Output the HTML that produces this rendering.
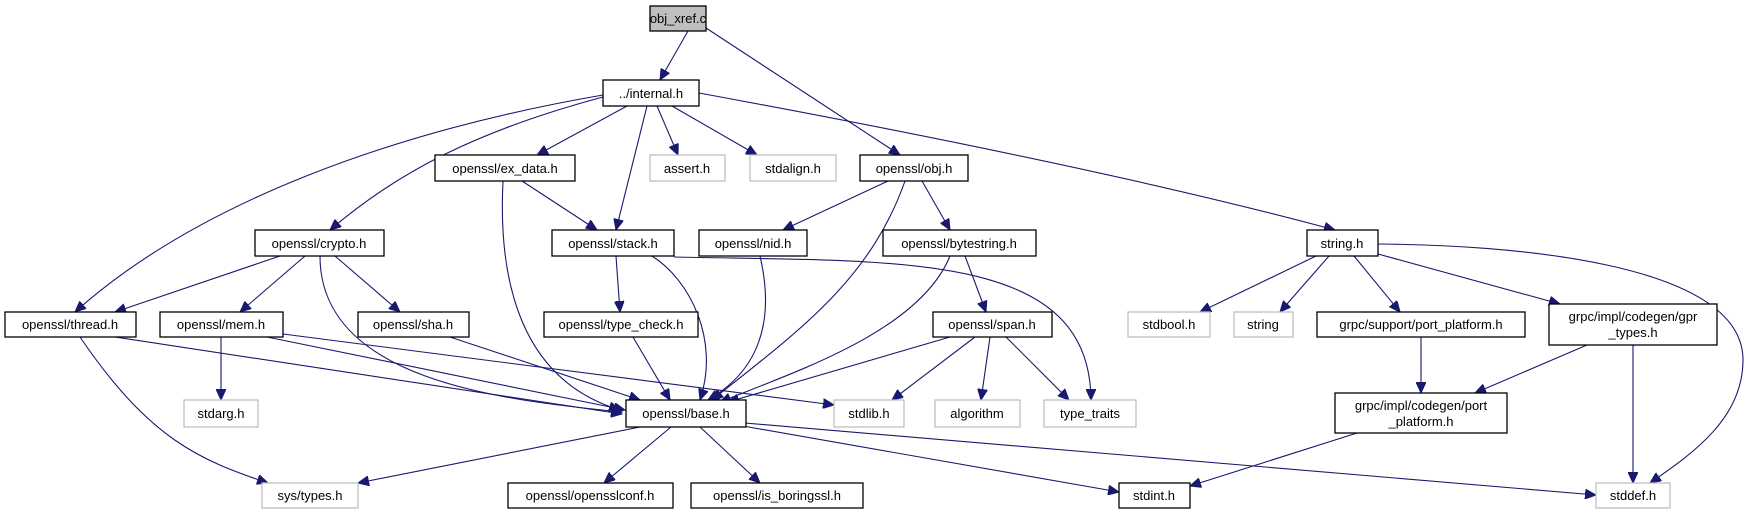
<!DOCTYPE html>
<html><head><meta charset="utf-8"><style>
html,body{margin:0;padding:0;background:#fff;}
svg{display:block}
text{font-family:"Liberation Sans",sans-serif;font-size:13px;text-anchor:middle;fill:#000}
.b{fill:#fff;stroke:#000;stroke-width:1.3}
.g{fill:#fff;stroke:#bfbfbf;stroke-width:1.3}
.e{fill:none;stroke:#191970;stroke-width:1.1;marker-end:url(#a)}
</style></head><body>
<svg width="1749" height="515" viewBox="0 0 1749 515" xmlns="http://www.w3.org/2000/svg">
<defs><marker id="a" markerUnits="userSpaceOnUse" markerWidth="12" markerHeight="10" refX="11" refY="5" orient="auto"><path d="M0,0 L11,5 L0,10 z" fill="#191970" stroke="#191970"/></marker></defs>
<g>
<path class="e" d="M688,31 L660,80"/>
<path class="e" d="M706,28 L900,155"/>
<path class="e" d="M603,95 C400,130 200,200 75,312"/>
<path class="e" d="M603,97 C480,130 400,170 330,230"/>
<path class="e" d="M627,106 L537,155"/>
<path class="e" d="M647,106 L616,230"/>
<path class="e" d="M657,106 L678,155"/>
<path class="e" d="M672,106 L757,155"/>
<path class="e" d="M699,93 C900,130 1150,180 1335,230"/>
<path class="e" d="M522,181 L597,230"/>
<path class="e" d="M503,181 C498,280 520,380 620,410"/>
<path class="e" d="M888,181 L783,230"/>
<path class="e" d="M922,181 L950,230"/>
<path class="e" d="M905,181 C870,280 800,330 712,400"/>
<path class="e" d="M616,256 L620,312"/>
<path class="e" d="M652,256 C690,280 720,340 700,400"/>
<path class="e" d="M674,257 C900,262 1090,250 1091,400"/>
<path class="e" d="M760,256 C775,320 760,370 708,400"/>
<path class="e" d="M965,256 L986,312"/>
<path class="e" d="M950,256 C920,330 800,370 720,402"/>
<path class="e" d="M280,256 L115,312"/>
<path class="e" d="M305,256 L240,312"/>
<path class="e" d="M335,256 L400,312"/>
<path class="e" d="M320,256 C320,380 500,400 622,412"/>
<path class="e" d="M115,337 L622,414"/>
<path class="e" d="M80,337 C150,440 200,460 268,483"/>
<path class="e" d="M221,337 L221,400"/>
<path class="e" d="M267,337 L625,410"/>
<path class="e" d="M283,334 L834,405"/>
<path class="e" d="M450,337 L640,400"/>
<path class="e" d="M633,337 L670,400"/>
<path class="e" d="M950,337 L728,402"/>
<path class="e" d="M975,337 L892,400"/>
<path class="e" d="M990,337 L981,400"/>
<path class="e" d="M1006,337 L1069,400"/>
<path class="e" d="M1316,256 L1200,312"/>
<path class="e" d="M1329,256 L1280,312"/>
<path class="e" d="M1354,256 L1400,312"/>
<path class="e" d="M1378,254 L1560,304"/>
<path class="e" d="M1378,244 C1500,245 1743,260 1743,360 C1743,420 1690,455 1650,483"/>
<path class="e" d="M1421,337 L1421,393"/>
<path class="e" d="M1587,345 L1475,393"/>
<path class="e" d="M1633,345 L1633,483"/>
<path class="e" d="M1357,433 L1190,486"/>
<path class="e" d="M640,427 L358,483"/>
<path class="e" d="M671,427 L604,483"/>
<path class="e" d="M700,427 L760,483"/>
<path class="e" d="M743,426 L1119,492"/>
<path class="e" d="M745,423 L1596,495"/>
</g>
<g>
<rect x="650" y="6" width="56" height="25" fill="#bfbfbf" stroke="#000" stroke-width="1.3"/><text x="678" y="23">obj_xref.c</text>
<rect class="b" x="603" y="80" width="96" height="26"/><text x="651" y="98">../internal.h</text>
<rect class="b" x="435" y="155" width="140" height="26"/><text x="505" y="173">openssl/ex_data.h</text>
<rect class="g" x="650" y="155" width="75" height="26"/><text x="687" y="173" fill="#000">assert.h</text>
<rect class="g" x="750" y="155" width="86" height="26"/><text x="793" y="173">stdalign.h</text>
<rect class="b" x="860" y="155" width="108" height="26"/><text x="914" y="173">openssl/obj.h</text>
<rect class="b" x="255" y="230" width="129" height="26"/><text x="319" y="248">openssl/crypto.h</text>
<rect class="b" x="552" y="230" width="122" height="26"/><text x="613" y="248">openssl/stack.h</text>
<rect class="b" x="699" y="230" width="108" height="26"/><text x="753" y="248">openssl/nid.h</text>
<rect class="b" x="883" y="230" width="153" height="26"/><text x="959" y="248">openssl/bytestring.h</text>
<rect class="b" x="1307" y="230" width="71" height="26"/><text x="1342" y="248">string.h</text>
<rect class="b" x="5" y="312" width="131" height="25"/><text x="70" y="329">openssl/thread.h</text>
<rect class="b" x="160" y="312" width="123" height="25"/><text x="221" y="329">openssl/mem.h</text>
<rect class="b" x="358" y="312" width="111" height="25"/><text x="413" y="329">openssl/sha.h</text>
<rect class="b" x="544" y="312" width="154" height="25"/><text x="621" y="329">openssl/type_check.h</text>
<rect class="b" x="933" y="312" width="119" height="25"/><text x="992" y="329">openssl/span.h</text>
<rect class="g" x="1128" y="312" width="82" height="25"/><text x="1169" y="329">stdbool.h</text>
<rect class="g" x="1234" y="312" width="59" height="25"/><text x="1263" y="329">string</text>
<rect class="b" x="1317" y="312" width="208" height="25"/><text x="1421" y="329">grpc/support/port_platform.h</text>
<rect class="b" x="1549" y="304" width="168" height="41"/><text x="1633" y="321">grpc/impl/codegen/gpr</text><text x="1633" y="337">_types.h</text>
<rect class="g" x="184" y="400" width="74" height="27"/><text x="221" y="418">stdarg.h</text>
<rect class="b" x="626" y="400" width="120" height="27"/><text x="686" y="418">openssl/base.h</text>
<rect class="g" x="834" y="400" width="70" height="27"/><text x="869" y="418">stdlib.h</text>
<rect class="g" x="935" y="400" width="85" height="27"/><text x="977" y="418">algorithm</text>
<rect class="g" x="1044" y="400" width="92" height="27"/><text x="1090" y="418">type_traits</text>
<rect class="b" x="1335" y="393" width="172" height="40"/><text x="1421" y="410">grpc/impl/codegen/port</text><text x="1421" y="426">_platform.h</text>
<rect class="g" x="262" y="483" width="96" height="25"/><text x="310" y="500">sys/types.h</text>
<rect class="b" x="508" y="483" width="165" height="25"/><text x="590" y="500">openssl/opensslconf.h</text>
<rect class="b" x="691" y="483" width="172" height="25"/><text x="777" y="500">openssl/is_boringssl.h</text>
<rect class="b" x="1119" y="483" width="71" height="25"/><text x="1154" y="500">stdint.h</text>
<rect class="g" x="1596" y="483" width="74" height="25"/><text x="1633" y="500">stddef.h</text>
</g>
</svg>
</body></html>
